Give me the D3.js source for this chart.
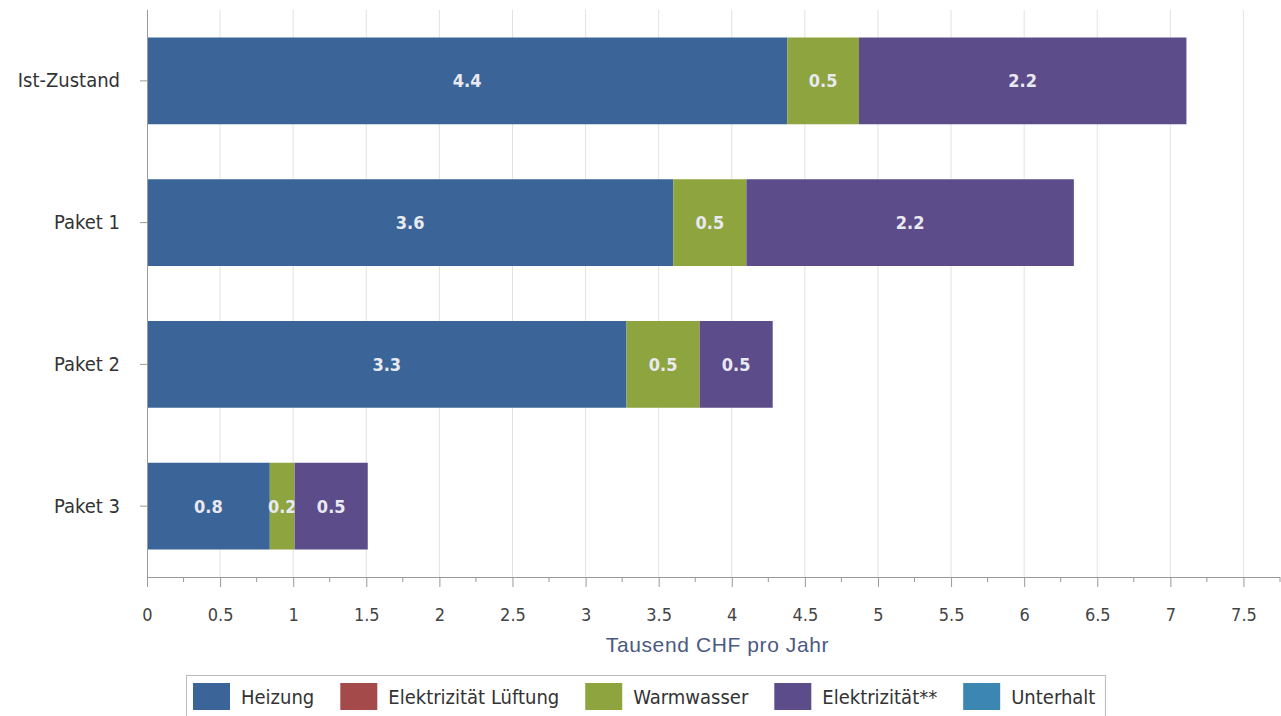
<!DOCTYPE html>
<html>
<head>
<meta charset="utf-8">
<script src="https://cdn.jsdelivr.net/npm/d3@7"></script>
<style>
  html, body { margin: 0; padding: 0; background: #fff; }
  svg { display: block; }
  .narrow { font-family: "Liberation Sans Narrow", "Arial Narrow", "DejaVu Sans Condensed", sans-serif; }
</style>
</head>
<body>
<svg id="chart" width="1281" height="716"></svg>
<script>
// Annual energy cost per scenario, thousand CHF
const categories = ["Ist-Zustand", "Paket 1", "Paket 2", "Paket 3"];
const seriesNames = ["Heizung", "Elektrizität Lüftung", "Warmwasser", "Elektrizität**", "Unterhalt"];
const heizung = [4.38, 3.60, 3.28, 0.84];
const elektrizitaetLueftung = [0, 0, 0, 0];
const warmwasser = [0.49, 0.50, 0.50, 0.17];
const elektrizitaet = [2.24, 2.24, 0.50, 0.50];
const unterhalt = [0, 0, 0, 0];
const xTicks = [0, 0.5, 1, 1.5, 2, 2.5, 3, 3.5, 4, 4.5, 5, 5.5, 6, 6.5, 7, 7.5];
const axisTitle = "Tausend CHF pro Jahr";
const colors = ["#3b6598", "#a44a4a", "#8da43f", "#5d4c8a", "#3b87b1"];

const seriesValues = [heizung, elektrizitaetLueftung, warmwasser, elektrizitaet, unterhalt];
const rows = categories.map((c, i) => {
  const r = { cat: c };
  seriesNames.forEach((s, j) => { r[s] = seriesValues[j][i]; });
  return r;
});

const svg = d3.select("#chart");
const plotLeft = 147, plotRight = 1280, plotTop = 10, plotBottom = 577;

const x = d3.scaleLinear().domain([0, 7.75]).range([plotLeft, plotRight]);
const y = d3.scaleBand().domain(categories).range([plotTop, plotBottom]).paddingInner(0.388).paddingOuter(0.194);

// vertical grid
svg.append("g").selectAll("line")
  .data(xTicks.filter(t => t > 0))
  .join("line")
  .attr("x1", d => x(d)).attr("x2", d => x(d))
  .attr("y1", plotTop).attr("y2", plotBottom)
  .attr("stroke", "#e2e2e2").attr("stroke-width", 1);

// stacked bars
const stack = d3.stack().keys(seriesNames)(rows);
const layers = svg.append("g").selectAll("g")
  .data(stack)
  .join("g")
  .attr("fill", (d, i) => colors[i]);

layers.selectAll("rect")
  .data(d => d.filter(p => p[1] - p[0] > 0))
  .join("rect")
  .attr("x", d => x(d[0]))
  .attr("y", d => y(d.data.cat))
  .attr("width", d => x(d[1]) - x(d[0]))
  .attr("height", y.bandwidth());

// segment value labels
layers.selectAll("text")
  .data(d => d.filter(p => p[1] - p[0] > 0))
  .join("text")
  .attr("class", "narrow")
  .attr("x", d => (x(d[0]) + x(d[1])) / 2)
  .attr("y", d => y(d.data.cat) + y.bandwidth() / 2)
  .attr("dy", "0.36em")
  .attr("text-anchor", "middle")
  .attr("fill", "#e9e9f1")
  .attr("font-weight", "bold")
  .attr("font-size", 18)
  .text(d => d3.format(".1f")(d[1] - d[0]));

// x axis with minor ticks
const minor = d3.range(0.25, 7.76, 0.5);
svg.append("g").selectAll("line")
  .data(minor)
  .join("line")
  .attr("x1", d => x(d)).attr("x2", d => x(d))
  .attr("y1", plotBottom).attr("y2", plotBottom + 5)
  .attr("stroke", "#999");

const xAxis = svg.append("g")
  .attr("transform", `translate(0,${plotBottom})`)
  .call(d3.axisBottom(x).tickValues(xTicks).tickSize(10).tickPadding(21).tickFormat(d3.format("")));
xAxis.select(".domain").attr("stroke", "#999").attr("d", `M${plotLeft},0.5H${plotRight}`);
xAxis.selectAll(".tick line").attr("stroke", "#999");
xAxis.selectAll(".tick text")
  .attr("class", "narrow")
  .attr("font-size", 18).attr("fill", "#444");

// y axis
const yAxis = svg.append("g")
  .attr("transform", `translate(${plotLeft},0)`)
  .call(d3.axisLeft(y).tickSize(7).tickPadding(20));
yAxis.select(".domain").attr("stroke", "#999").attr("d", `M0.5,${plotTop}V${plotBottom}`);
yAxis.selectAll(".tick line").attr("stroke", "#999");
yAxis.selectAll(".tick text")
  .attr("class", "narrow")
  .attr("font-size", 20).attr("fill", "#333");

// axis title
svg.append("text")
  .attr("x", (plotLeft + plotRight) / 2 + 4)
  .attr("y", 652)
  .attr("text-anchor", "middle")
  .attr("font-family", "'Liberation Sans', Arial, sans-serif")
  .attr("font-size", 21)
  .attr("letter-spacing", 0.6)
  .attr("fill", "#4b5a82")
  .text(axisTitle);

// legend
const legend = svg.append("g");
const box = legend.append("rect")
  .attr("y", 675.5).attr("height", 50)
  .attr("fill", "#fff").attr("stroke", "#bbb");
let cx = 193;
seriesNames.forEach((name, i) => {
  const g = legend.append("g");
  g.append("rect")
    .attr("x", cx).attr("y", 683)
    .attr("width", 37).attr("height", 27)
    .attr("fill", colors[i]);
  const t = g.append("text")
    .attr("class", "narrow")
    .attr("x", cx + 48).attr("y", 697).attr("dy", "0.36em")
    .attr("font-size", 20).attr("fill", "#333")
    .text(name);
  cx += 48 + t.node().getComputedTextLength() + 26;
});
box.attr("x", 186.5).attr("width", cx - 26 + 10 - 186.5);
</script>
</body>
</html>
